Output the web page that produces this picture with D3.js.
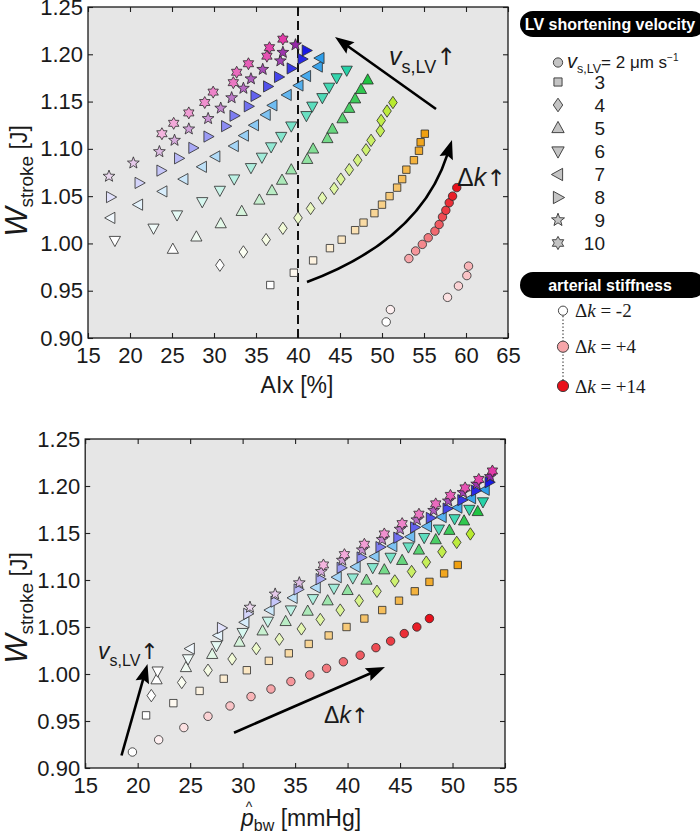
<!DOCTYPE html>
<html><head><meta charset="utf-8">
<script src="https://cdn.jsdelivr.net/npm/d3@7"></script>
<style>
body{margin:0;background:#fff}
svg{display:block}
text{fill:#1a1a1a}
.serif, .serif tspan{font-family:"Liberation Serif","Times New Roman",serif}
</style>
</head><body>
<svg id="c" width="700" height="835" font-family="Liberation Sans, Arial, Helvetica, sans-serif"></svg>
<script>
// ---------------- data ----------------
const deltaK = [-2,-1,0,1,2,3,4,5,6,7,8,9,10,11,12,13,14];
const velocities = [2,3,4,5,6,7,8,9,10];
const xTicksTop = [15,20,25,30,35,40,45,50,55,60,65];
const xTicksBottom = [15,20,25,30,35,40,45,50,55];
const yTicks = [0.90,0.95,1.00,1.05,1.10,1.15,1.20,1.25];
const legendDk = [-2,4,14];

// W_stroke [J]
const wV2  = [0.917,0.930,0.943,0.955,0.966,0.976,0.984,0.992,0.999,1.006,1.013,1.020,1.028,1.035,1.043,1.050,1.059];
const wV3  = [0.956,0.969,0.982,0.995,1.004,1.014,1.022,1.032,1.041,1.050,1.059,1.068,1.078,1.088,1.098,1.107,1.116];
const wV4  = [0.977,0.991,1.004,1.016,1.027,1.037,1.048,1.058,1.068,1.078,1.088,1.099,1.109,1.119,1.130,1.140,1.149];
const wV5  = [0.994,1.007,1.021,1.034,1.046,1.056,1.067,1.078,1.089,1.100,1.111,1.121,1.132,1.143,1.153,1.163,1.173];
const wV6  = [1.003,1.016,1.030,1.044,1.056,1.068,1.080,1.091,1.102,1.113,1.124,1.135,1.145,1.154,1.165,1.175,1.183];
const wV7  = [1.027,1.041,1.055,1.068,1.081,1.092,1.103,1.114,1.125,1.136,1.146,1.157,1.167,1.177,1.187,1.196];
const wV8  = [1.049,1.064,1.077,1.090,1.101,1.113,1.124,1.135,1.145,1.156,1.166,1.176,1.185,1.195,1.204];
const wV9  = [1.071,1.085,1.097,1.109,1.121,1.132,1.143,1.154,1.164,1.174,1.184,1.193,1.202,1.210];
const wV10 = [1.116,1.127,1.138,1.149,1.160,1.170,1.181,1.190,1.198,1.207,1.216];

// AIx [%]
const aixV2  = [50.5,51.0,57.8,59.1,60.1,60.3,53.2,54.0,54.8,55.5,56.3,56.8,57.2,57.6,58.0,58.4,58.9];
const aixV3  = [36.7,39.5,41.8,43.8,45.2,46.8,47.8,49.1,50.0,50.9,51.8,52.4,52.9,53.8,54.4,54.6,55.1];
const aixV4  = [30.7,33.5,36.2,38.2,40.0,41.5,42.9,44.3,45.1,46.1,47.1,48.1,48.7,49.8,49.9,50.6,51.3];
const aixV5  = [25.1,27.9,30.8,33.3,35.4,36.9,38.1,39.2,41.1,41.8,43.5,44.1,45.3,46.1,46.8,47.5,48.3];
const aixV6  = [18.2,22.8,25.6,28.6,30.7,32.4,34.4,35.7,36.8,38.0,39.2,41.0,41.7,42.9,43.7,44.6,45.8];
const aixV7  = [17.7,21.0,23.9,26.4,28.6,30.2,32.4,33.6,34.8,36.2,37.0,38.7,40.1,41.0,42.4,42.6];
const aixV8  = [17.7,21.1,23.7,25.8,27.5,29.3,31.4,32.4,34.1,34.9,36.4,37.7,39.2,40.5,41.0];
const aixV9  = [17.5,20.4,23.5,25.3,27.0,29.3,30.8,32.1,33.5,34.4,35.8,37.9,38.2,39.7];
const aixV10 = [23.8,25.2,27.0,28.9,29.9,32.3,32.7,34.1,36.3,36.6,38.2];

// p_bw [mmHg]
const pbwV2  = [19.5,22.0,24.4,26.7,28.8,30.8,32.7,34.6,36.4,38.0,39.6,41.2,42.7,44.1,45.4,46.6,47.8];
const pbwV3  = [20.8,23.4,25.9,28.2,30.4,32.5,34.4,36.3,38.2,39.9,41.6,43.3,44.9,46.4,47.8,49.2,50.5];
const pbwV4  = [21.3,24.2,26.7,29.0,31.3,33.5,35.6,37.4,39.3,41.1,42.8,44.5,46.1,47.5,49.0,50.4,51.7];
const pbwV5  = [21.8,24.6,27.1,29.7,31.9,34.1,36.2,38.1,40.0,41.8,43.5,45.2,46.8,48.4,49.7,51.1,52.4];
const pbwV6  = [21.9,24.8,27.5,30.0,32.4,34.6,36.7,38.7,40.5,42.4,44.1,45.8,47.3,48.7,50.2,51.6,52.9];
const pbwV7  = [25.0,27.7,30.2,32.6,34.8,37.0,39.0,40.8,42.6,44.3,46.0,47.6,49.0,50.5,51.8,53.1];
const pbwV8  = [28.0,30.5,33.1,35.3,37.4,39.4,41.3,43.1,44.8,46.4,47.9,49.5,50.9,52.2,53.5];
const pbwV9  = [30.7,33.1,35.4,37.5,39.5,41.4,43.3,45.0,46.6,48.2,49.6,51.0,52.3,53.6];
const pbwV10 = [37.7,39.7,41.6,43.5,45.2,46.8,48.4,49.8,51.2,52.5,53.8];

const shapes = ["circle","square","diamond","triUp","triDown","triLeft","triRight","star5","star6"];
const fullColors = ["#e8101a","#f0a010","#b8ea30","#22c444","#26d2a8","#2e9eea","#1a1ae6","#9628a8","#e23aa8"];

const series = velocities.map((v,i)=>({
  v, shape: shapes[i], color: fullColors[i],
  w: [wV2,wV3,wV4,wV5,wV6,wV7,wV8,wV9,wV10][i],
  aix: [aixV2,aixV3,aixV4,aixV5,aixV6,aixV7,aixV8,aixV9,aixV10][i],
  pbw: [pbwV2,pbwV3,pbwV4,pbwV5,pbwV6,pbwV7,pbwV8,pbwV9,pbwV10][i]
}));

// ---------------- helpers ----------------
const svg = d3.select("#c");
const FS = 22;
const SANS = "Liberation Sans, Arial, Helvetica, sans-serif";

function shapePath(type, k=1){
  const p = pts => "M" + pts.map(q=>[q[0]*k,q[1]*k].join(",")).join("L") + "Z";
  switch(type){
    case "circle": return d3.symbol(d3.symbolCircle, 56*k*k)();
    case "square": return p([[-3.7,-3.7],[3.7,-3.7],[3.7,3.7],[-3.7,3.7]]);
    case "diamond": return p([[0,-6.2],[4.3,0],[0,6.2],[-4.3,0]]);
    case "triUp": return p([[0,-6],[5.6,4.2],[-5.6,4.2]]);
    case "triDown": return p([[0,6],[5.6,-4.2],[-5.6,-4.2]]);
    case "triLeft": return p([[-6,0],[4.2,-5.6],[4.2,5.6]]);
    case "triRight": return p([[6,0],[-4.2,-5.6],[-4.2,5.6]]);
    case "star5": {
      const a=[]; for(let j=0;j<10;j++){const r=j%2?2.6:6.2; const t=-Math.PI/2+j*Math.PI/5; a.push([r*Math.cos(t),r*Math.sin(t)]);} return p(a);
    }
    case "star6": {
      const a=[]; for(let j=0;j<12;j++){const r=j%2?3.4:6.0; const t=-Math.PI/2+j*Math.PI/6; a.push([r*Math.cos(t),r*Math.sin(t)]);} return p(a);
    }
  }
}
function colorFor(s, dk){
  const t = (dk - deltaK[0])/(deltaK[deltaK.length-1]-deltaK[0]);
  return d3.interpolateRgb("#ffffff", s.color)(t);
}
function arrowHead(g, tip, from, len=19, wid=14){
  const dx=tip[0]-from[0], dy=tip[1]-from[1], L=Math.hypot(dx,dy);
  const ux=dx/L, uy=dy/L, px=-uy, py=ux;
  const bx=tip[0]-ux*len, by=tip[1]-uy*len;
  g.append("path").attr("d",`M${tip[0]},${tip[1]}L${bx+px*wid/2},${by+py*wid/2}L${bx+ux*3},${by+uy*3}L${bx-px*wid/2},${by-py*wid/2}Z`).attr("fill","#000");
  return [bx+ux*4, by+uy*4];
}
function straightArrow(g, from, tip){
  const base = arrowHead(g, tip, from);
  g.append("line").attr("x1",from[0]).attr("y1",from[1]).attr("x2",base[0]).attr("y2",base[1]).attr("stroke","#000").attr("stroke-width",2.6);
}

function panel(cfg){
  const {x,y,xTicks} = cfg;
  const g = svg.append("g");
  const [x0,x1] = x.range(), [y0,y1] = y.range();
  g.append("rect").attr("x",x0).attr("y",y1).attr("width",x1-x0).attr("height",y0-y1).attr("fill","#e6e6e6");
  const tk = 5;
  const ax = (gen, tx, ty, labels, pad) => {
    const a = g.append("g").attr("transform",`translate(${tx},${ty})`)
      .call(gen.tickSizeInner(-tk).tickSizeOuter(0).tickPadding(pad));
    a.attr("font-family",SANS).attr("font-size",FS);
    a.select(".domain").remove();
    a.selectAll(".tick line").attr("stroke","#222").attr("stroke-width",1.1);
    if(!labels) a.selectAll(".tick text").remove();
    else a.selectAll(".tick text").attr("fill","#1a1a1a");
    return a;
  };
  ax(d3.axisBottom(x).tickValues(xTicks).tickFormat(d3.format("d")), 0, y0, true, 9);
  ax(d3.axisTop(x).tickValues(xTicks), 0, y1, false, 6);
  ax(d3.axisLeft(y).tickValues(yTicks).tickFormat(d3.format(".2f")), x0, 0, true, 5);
  ax(d3.axisRight(y).tickValues(yTicks), x1, 0, false, 6);
  g.append("rect").attr("x",x0).attr("y",y1).attr("width",x1-x0).attr("height",y0-y1).attr("fill","none").attr("stroke","#1a1a1a").attr("stroke-width",1.3);
  return g;
}
function drawMarks(g, x, y, xKey){
  const pts = [];
  series.forEach(s=>{
    const dks = deltaK.slice(deltaK.length - s.w.length);
    s.w.forEach((w,j)=>pts.push({s, dk:dks[j], xv:s[xKey][j], w}));
  });
  g.append("g").selectAll("path").data(pts).join("path")
    .attr("d",d=>shapePath(d.s.shape))
    .attr("transform",d=>`translate(${x(d.xv)},${y(d.w)})`)
    .attr("fill",d=>colorFor(d.s,d.dk))
    .attr("stroke","#2a2a2a").attr("stroke-width",0.8);
}
function yLabel(cy){
  const t = svg.append("text").attr("transform",`translate(27,${cy}) rotate(-90)`).attr("text-anchor","middle");
  t.append("tspan").attr("font-style","italic").attr("font-size",31).text("W");
  t.append("tspan").attr("font-size",19).attr("dy",6).text("stroke");
  t.append("tspan").attr("font-size",23).attr("dy",-6).text(" [J]");
}
function vLabel(x0, yb, fv, fs){
  const t = svg.append("text").attr("x",x0).attr("y",yb);
  t.append("tspan").attr("font-style","italic").attr("font-size",fv).text("v");
  t.append("tspan").attr("font-size",fs).attr("dy",fv*0.3).text("s,LV");
  t.append("tspan").attr("font-family","DejaVu Sans").attr("font-size",fv*0.95).attr("dy",-fv*0.3).text("↑");
}
function dkLabel(x0, yb, fz){
  const t = svg.append("text").attr("x",x0).attr("y",yb).attr("font-size",fz);
  t.append("tspan").text("Δ");
  t.append("tspan").attr("font-style","italic").text("k");
  t.append("tspan").attr("font-family","DejaVu Sans").attr("font-size",fz*0.92).text("↑");
}

// ---------------- top panel ----------------
const xTop = d3.scaleLinear().domain([15,65]).range([88,508]);
const yTop = d3.scaleLinear().domain([0.90,1.25]).range([338,7]);
const gTop = panel({x:xTop,y:yTop,xTicks:xTicksTop});
gTop.append("line").attr("x1",xTop(40)).attr("x2",xTop(40)).attr("y1",yTop(1.25)).attr("y2",yTop(0.90))
  .attr("stroke","#111").attr("stroke-width",2).attr("stroke-dasharray","9,5");
drawMarks(gTop, xTop, yTop, "aix");
straightArrow(gTop, [436,109], [335,37]);
{
  const s=[307,282], c=[420,240], e=[452,140];
  const base = arrowHead(gTop, e, c, 19, 14);
  gTop.append("path").attr("d",`M${s[0]},${s[1]}Q${c[0]},${c[1]} ${base[0]},${base[1]}`).attr("fill","none").attr("stroke","#000").attr("stroke-width",2.6);
}
vLabel(389, 65, 25, 18);
dkLabel(457, 186, 25);
svg.append("text").attr("x",297).attr("y",393).attr("text-anchor","middle").attr("font-size",23).text("AIx [%]");
yLabel(181);

// ---------------- bottom panel ----------------
const xBot = d3.scaleLinear().domain([15,55]).range([85.2,505]);
const yBot = d3.scaleLinear().domain([0.90,1.25]).range([768,439]);
const gBot = panel({x:xBot,y:yBot,xTicks:xTicksBottom});
drawMarks(gBot, xBot, yBot, "pbw");
straightArrow(gBot, [121.5,755.5], [147.5,664]);
straightArrow(gBot, [234,732.7], [385,667]);
vLabel(98, 659, 23, 16);
dkLabel(324, 723, 23);
{
  const t = svg.append("text").attr("x",241).attr("y",826).attr("font-size",23);
  t.append("tspan").attr("font-style","italic").text("p");
  t.append("tspan").attr("font-size",16).attr("dy",5).text("bw");
  t.append("tspan").attr("dy",-5).text(" [mmHg]");
  svg.append("text").attr("x",249).attr("y",812).attr("text-anchor","middle").attr("font-size",14).text("^");
}
yLabel(608);

// ---------------- legends ----------------
function pill(y0, label){
  svg.append("rect").attr("x",520).attr("y",y0).attr("width",185).attr("height",26).attr("rx",13).attr("fill","#000");
  svg.append("text").attr("x",610).attr("y",y0+18.5).attr("text-anchor","middle").attr("font-size",16).attr("font-weight","bold").style("fill","#fff").text(label);
}
pill(11, "LV shortening velocity");
const legY = [62.5,82,105,128,151.5,174.5,197.5,220,243];
series.forEach((s,i)=>{
  svg.append("path").attr("d",shapePath(s.shape,1.1)).attr("transform",`translate(558,${legY[i]})`)
    .attr("fill","#c4c4c4").attr("stroke","#333").attr("stroke-width",0.9);
  if(i===0){
    const t = svg.append("text").attr("x",567).attr("y",legY[i]+5).attr("font-size",17);
    t.append("tspan").attr("font-style","italic").attr("font-size",20).text("v");
    t.append("tspan").attr("font-size",12.5).attr("dy",5).text("s,LV");
    t.append("tspan").attr("dy",-5).text("= 2 μm s");
    t.append("tspan").attr("font-size",10).attr("dy",-7).text("−1");
  } else {
    svg.append("text").attr("x",605).attr("y",legY[i]+6.5).attr("text-anchor","end").attr("font-size",19).text(s.v);
  }
});
pill(272, "arterial stiffness");
svg.append("line").attr("x1",563).attr("x2",563).attr("y1",316).attr("y2",380).attr("stroke","#333").attr("stroke-width",1.2).attr("stroke-dasharray","1.3,2.2");
const legCy = [310.7,346.7,386];
legendDk.forEach((dk,i)=>{
  svg.append("circle").attr("cx",563).attr("cy",legCy[i]).attr("r",i===0?4.6:5.6)
    .attr("fill",colorFor(series[0],dk)).attr("stroke","#333").attr("stroke-width",0.9);
  const t = svg.append("text").attr("class","serif").attr("x",575).attr("y",legCy[i]+6.5).attr("font-size",19);
  t.append("tspan").text("Δ");
  t.append("tspan").attr("font-style","italic").text("k");
  t.append("tspan").text(dk<0 ? " =  "+dk : " = +"+dk);
});
</script>
</body></html>
